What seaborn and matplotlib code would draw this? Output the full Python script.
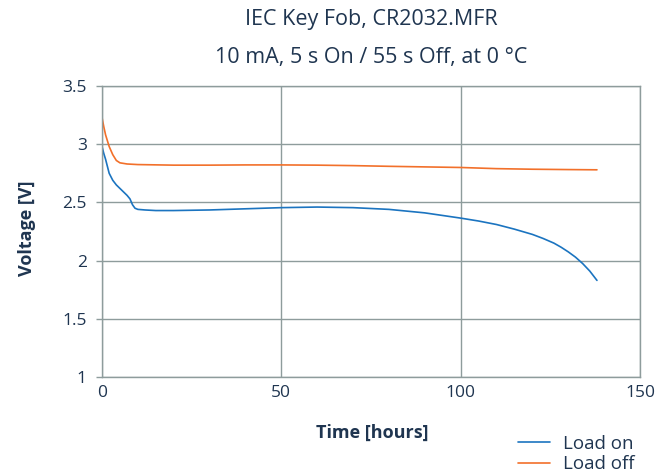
import numpy as np
import pandas as pd
import seaborn as sns
import matplotlib
matplotlib.use("Agg")
import matplotlib.pyplot as plt
from matplotlib.lines import Line2D

# ---- data ----
on_hours = [0, 0.5, 1, 1.5, 2, 3, 4, 5, 6, 7, 7.8, 8.5, 9.2, 10, 12, 15, 20, 30, 40, 50, 60,
            70, 80, 90, 100, 105, 110, 115, 120, 123, 126, 128, 130, 132, 134, 136, 138]
on_volts = [2.98, 2.92, 2.87, 2.81, 2.75, 2.69, 2.65, 2.62, 2.59, 2.56, 2.53, 2.48, 2.45, 2.44,
            2.435, 2.43, 2.43, 2.435, 2.445, 2.455, 2.46, 2.455, 2.44, 2.41, 2.365, 2.34, 2.31,
            2.27, 2.225, 2.19, 2.15, 2.115, 2.075, 2.03, 1.975, 1.91, 1.83]
off_hours = [0, 0.5, 1, 1.5, 2, 3, 4, 5, 7, 10, 20, 30, 40, 50, 60, 70, 80, 90, 100, 110, 120,
             130, 138]
off_volts = [3.23, 3.15, 3.08, 3.03, 2.98, 2.91, 2.86, 2.84, 2.83, 2.825, 2.82, 2.82, 2.822,
             2.822, 2.82, 2.816, 2.81, 2.805, 2.80, 2.79, 2.785, 2.782, 2.78]
series_names = ["Load on", "Load off"]
x_ticks = [0, 50, 100, 150]
y_ticks = [1, 1.5, 2, 2.5, 3, 3.5]
y_tick_labels = ["1", "1.5", "2", "2.5", "3", "3.5"]
title_lines = ["IEC Key Fob, CR2032.MFR", "10 mA, 5 s On / 55 s Off, at 0 °C"]
x_label = "Time [hours]"
y_label = "Voltage [V]"

df = pd.concat([
    pd.DataFrame({"hours": on_hours, "volts": on_volts, "series": series_names[0]}),
    pd.DataFrame({"hours": off_hours, "volts": off_volts, "series": series_names[1]}),
])

sns.set_theme(style="white")
plt.rcParams["font.family"] = ["Open Sans", "DejaVu Sans"]
text_color = "#1f3550"
grid_color = "#8e9c9c"

fig = plt.figure(figsize=(6.69, 4.76), dpi=100)
ax = fig.add_axes([102 / 669, 1 - 377 / 476, (640 - 102) / 669, (377 - 86) / 476])

palette = {series_names[0]: "#1b74c0", series_names[1]: "#f2702a"}
sns.lineplot(data=df, x="hours", y="volts", hue="series", palette=palette, ax=ax,
             linewidth=1.2, legend=False, sort=False, estimator=None)

ax.set_xlim(0, 150)
ax.set_ylim(1, 3.5)
ax.set_xticks(x_ticks)
ax.set_yticks(y_ticks)
ax.set_yticklabels(y_tick_labels)
ax.grid(True, color=grid_color, linewidth=1.0)
ax.set_axisbelow(True)
for s in ax.spines.values():
    s.set_visible(True)
    s.set_color(grid_color)
    s.set_linewidth(1.0)
ax.tick_params(axis="x", colors=text_color, labelsize=12.5, length=0, pad=6)
ax.tick_params(axis="y", colors=grid_color, labelcolor=text_color, labelsize=12.5,
               length=4, width=1.0, direction="out", pad=7, left=True)
ax.set_xlabel(x_label, fontsize=13, fontweight="bold", color=text_color, va="center")
ax.set_ylabel(y_label, fontsize=13, fontweight="bold", color=text_color, va="center")
ax.xaxis.set_label_coords((372 - 102) / 538, (377 - 433) / 291)
ax.yaxis.set_label_coords((27 - 102) / 538, (377 - 228) / 291)

fig.text(371 / 669, 1 - 20 / 476, title_lines[0], ha="center", va="center",
         fontsize=15.5, color=text_color)
fig.text(371 / 669, 1 - 57 / 476, title_lines[1], ha="center", va="center",
         fontsize=15.5, color=text_color)

handles = [Line2D([], [], color=palette[n], linewidth=1.2) for n in series_names]
leg = fig.legend(handles, series_names, loc="center left",
                 bbox_to_anchor=(518 / 669, 1 - 454 / 476), frameon=False,
                 fontsize=13.5, handlelength=1.7, handletextpad=0.7, labelspacing=0.12,
                 borderpad=0, borderaxespad=0)
for t in leg.get_texts():
    t.set_color(text_color)

fig.savefig("out.png", dpi=100)
